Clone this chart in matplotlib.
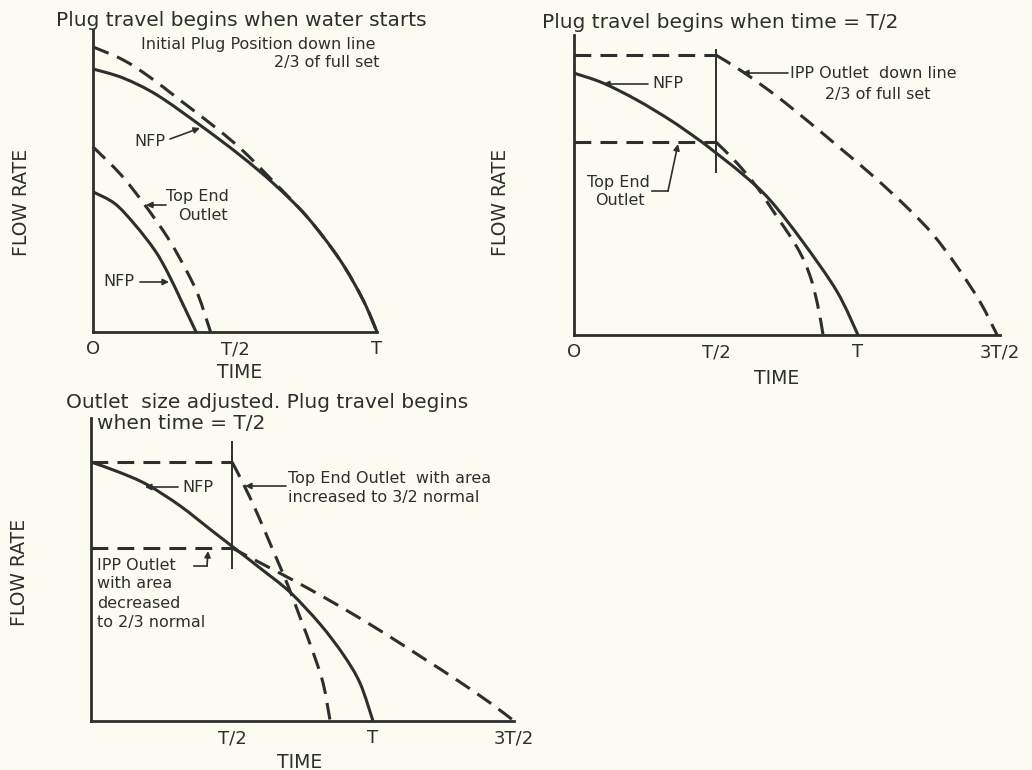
import matplotlib
matplotlib.use("Agg")
import numpy as np
import matplotlib.pyplot as plt
from matplotlib.lines import Line2D
from matplotlib.path import Path
from matplotlib.patches import PathPatch

# ---------------- data (time in units of T, flow rate normalised to axis height) ----------
# Panel 1: plug travel begins when water starts
p1_nfp_outer_t = [0, 0.106, 0.225, 0.377, 0.518, 0.634, 0.754, 0.87, 0.951, 1.0]
p1_nfp_outer_q = [0.871, 0.841, 0.785, 0.685, 0.585, 0.493, 0.381, 0.238, 0.106, 0.0]
p1_ipp_t = [0, 0.106, 0.2, 0.306, 0.437, 0.528, 0.623, 0.754, 0.87, 0.951, 1.0]
p1_ipp_q = [0.944, 0.901, 0.844, 0.768, 0.673, 0.6, 0.51, 0.381, 0.238, 0.106, 0.0]
p1_nfp_inner_t = [0, 0.077, 0.148, 0.218, 0.264, 0.31, 0.363]
p1_nfp_inner_q = [0.464, 0.425, 0.355, 0.27, 0.195, 0.105, 0.0]
p1_top_t = [0, 0.099, 0.183, 0.264, 0.324, 0.37, 0.414]
p1_top_q = [0.613, 0.52, 0.42, 0.311, 0.212, 0.123, 0.0]
p1_ticks = [0, 0.5, 1.0]
p1_ticklabels = ["O", "T/2", "T"]

# Panel 2: plug travel begins when time = T/2
p2_nfp_t = [0, 0.102, 0.222, 0.338, 0.433, 0.489, 0.595, 0.69, 0.806, 0.926, 1.0]
p2_nfp_q = [0.873, 0.84, 0.783, 0.717, 0.655, 0.615, 0.535, 0.45, 0.31, 0.145, 0.0]
p2_ipp_t = [0, 0.5, 0.595, 0.715, 0.831, 0.947, 1.053, 1.173, 1.264, 1.349, 1.43, 1.49]
p2_ipp_q = [0.933, 0.933, 0.877, 0.795, 0.707, 0.615, 0.53, 0.425, 0.335, 0.228, 0.11, 0.0]
p2_top_t = [0, 0.5, 0.574, 0.644, 0.7, 0.785, 0.83, 0.858, 0.877]
p2_top_q = [0.643, 0.643, 0.573, 0.493, 0.415, 0.293, 0.2, 0.1, 0.0]
p2_marker_t = [0.5, 0.5]
p2_marker_q = [0.543, 0.95]
p2_ticks = [0, 0.5, 1.0, 1.5]
p2_ticklabels = ["O", "T/2", "T", "3T/2"]

# Panel 3: outlet size adjusted, plug travel begins when time = T/2
p3_nfp_t = [0, 0.103, 0.199, 0.316, 0.433, 0.504, 0.599, 0.706, 0.812, 0.894, 0.954, 1.0]
p3_nfp_q = [0.855, 0.82, 0.78, 0.71, 0.625, 0.574, 0.505, 0.425, 0.32, 0.22, 0.125, 0.0]
p3_top_t = [0, 0.5, 0.539, 0.589, 0.645, 0.695, 0.741, 0.787, 0.823, 0.848]
p3_top_q = [0.855, 0.855, 0.785, 0.686, 0.564, 0.455, 0.343, 0.228, 0.125, 0.0]
p3_ipp_t = [0, 0.5, 0.6, 0.706, 0.823, 0.943, 1.06, 1.177, 1.298, 1.415, 1.5]
p3_ipp_q = [0.571, 0.571, 0.522, 0.47, 0.41, 0.345, 0.278, 0.208, 0.135, 0.06, 0.0]
p3_marker_t = [0.5, 0.5]
p3_marker_q = [0.505, 0.92]
p3_ticks = [0.5, 1.0, 1.5]
p3_ticklabels = ["T/2", "T", "3T/2"]

# ---------------- style ----------------
W, H = 1032, 770
BG = "#fbfbf1"
INK = "#2e2e2e"
DASH = (0, (5.5, 3.0))
TITLE = 14.5
NOTE = 11.5
LABEL = 13.5
plt.rcParams["font.family"] = ["DejaVu Sans"]

fig = plt.figure(figsize=(W / 100, H / 100), dpi=100, facecolor=BG)


def make_ax(left, bottom, width, height, xmax, minor):
    ax = fig.add_axes([left / W, 1 - bottom / H, width / W, height / H])
    ax.set_facecolor("none")
    ax.set_xlim(0, xmax)
    ax.set_ylim(0, 1)
    for s in ("top", "right"):
        ax.spines[s].set_visible(False)
    for s in ("left", "bottom"):
        ax.spines[s].set_linewidth(2.0)
        ax.spines[s].set_color(INK)
    ax.set_yticks([])
    ax.set_xticks(minor, minor=True)
    ax.tick_params(axis="x", which="major", length=0, pad=6, labelsize=13, labelcolor=INK)
    ax.tick_params(axis="x", which="minor", direction="in", length=6.5, width=1.5, color=INK)
    return ax


def smooth_path(t, q):
    P = np.column_stack([t, q]).astype(float)
    n = len(P)
    verts = [P[0]]
    codes = [Path.MOVETO]
    for i in range(n - 1):
        p0 = P[i - 1] if i > 0 else P[i]
        p1, p2 = P[i], P[i + 1]
        p3 = P[i + 2] if i + 2 < n else P[i + 1]
        verts += [p1 + (p2 - p0) / 6.0, p2 - (p3 - p1) / 6.0, p2]
        codes += [Path.CURVE4] * 3
    return Path(verts, codes)


def curve(ax, t, q, dashed=False, corner=0, lw=2.2):
    ls = DASH if dashed else "-"
    if corner:
        ax.plot(t[:corner + 1], q[:corner + 1], color=INK, lw=lw, ls=ls, clip_on=False,
                solid_capstyle="butt", dash_capstyle="butt")
        t, q = t[corner:], q[corner:]
    patch = PathPatch(smooth_path(t, q), fill=False, edgecolor=INK, lw=lw, ls=ls,
                      clip_on=False, capstyle="butt")
    ax.add_patch(patch)


def vline(ax, t, q):
    ax.plot(t, q, color=INK, lw=1.4, clip_on=False)


def txt(px, py, s, size=NOTE, ha="center", va="center", rot=0):
    fig.text(px / W, 1 - py / H, s, fontsize=size, ha=ha, va=va, rotation=rot, color=INK)


def arrow(ax, tip, tail):
    ax.annotate("", xy=(tip[0], H - tip[1]), xytext=(tail[0], H - tail[1]),
                xycoords="figure pixels", textcoords="figure pixels", annotation_clip=False,
                arrowprops=dict(arrowstyle="-|>", color=INK, lw=1.2, mutation_scale=9,
                                shrinkA=0, shrinkB=0))


def seg(points):
    xs = [p[0] / W for p in points]
    ys = [1 - p[1] / H for p in points]
    fig.add_artist(Line2D(xs, ys, transform=fig.transFigure, color=INK, lw=1.2))


# ---------------- panel 1 ----------------
ax1 = make_ax(93, 332, 284, 302, 1.0, [0.5])
ax1.set_xticks(p1_ticks)
ax1.set_xticklabels(p1_ticklabels)
curve(ax1, p1_nfp_outer_t, p1_nfp_outer_q)
curve(ax1, p1_ipp_t, p1_ipp_q, dashed=True)
curve(ax1, p1_nfp_inner_t, p1_nfp_inner_q)
curve(ax1, p1_top_t, p1_top_q, dashed=True)

txt(241, 20, "Plug travel begins when water starts", size=TITLE)
txt(258, 45, "Initial Plug Position down line")
txt(380, 63, "2/3 of full set", ha="right")
txt(150, 141, "NFP")
arrow(ax1, (200, 128), (170, 139))
txt(197, 197, "Top End")
txt(203, 216, "Outlet")
arrow(ax1, (146, 205), (166, 205))
txt(119, 282, "NFP")
arrow(ax1, (169, 282), (140, 282))
txt(22, 202, "FLOW RATE", size=LABEL, rot=90)
txt(240, 373, "TIME", size=LABEL)

# ---------------- panel 2 ----------------
ax2 = make_ax(574, 335, 426, 300, 1.5, [0.5])
ax2.set_xticks(p2_ticks)
ax2.set_xticklabels(p2_ticklabels)
curve(ax2, p2_nfp_t, p2_nfp_q)
curve(ax2, p2_ipp_t, p2_ipp_q, dashed=True, corner=1)
curve(ax2, p2_top_t, p2_top_q, dashed=True, corner=1)
vline(ax2, p2_marker_t, p2_marker_q)

txt(720, 23, "Plug travel begins when time = T/2", size=TITLE)
txt(668, 83, "NFP")
arrow(ax2, (603, 84), (648, 84))
txt(790, 73, "IPP Outlet  down line", ha="left")
arrow(ax2, (742, 73), (788, 73))
txt(878, 94, "2/3 of full set")
txt(618, 182, "Top End")
txt(620, 201, "Outlet")
seg([(652, 191), (668, 191)])
arrow(ax2, (678, 144), (668, 191))
txt(500, 202, "FLOW RATE", size=LABEL, rot=90)
txt(777, 378, "TIME", size=LABEL)

# ---------------- panel 3 ----------------
ax3 = make_ax(91, 721, 423, 303, 1.5, [0.5, 1.0, 1.5])
ax3.set_xticks(p3_ticks)
ax3.set_xticklabels(p3_ticklabels)
curve(ax3, p3_nfp_t, p3_nfp_q)
curve(ax3, p3_top_t, p3_top_q, dashed=True, corner=1)
curve(ax3, p3_ipp_t, p3_ipp_q, dashed=True, corner=1)
vline(ax3, p3_marker_t, p3_marker_q)

txt(267, 403, "Outlet  size adjusted. Plug travel begins", size=TITLE)
txt(97, 424, "when time = T/2", size=TITLE, ha="left")
txt(198, 487, "NFP")
arrow(ax3, (145, 487), (178, 487))
txt(288, 478, "Top End Outlet  with area", ha="left")
txt(288, 497, "increased to 3/2 normal", ha="left")
arrow(ax3, (245, 486), (286, 486))
txt(97, 565, "IPP Outlet", ha="left")
txt(97, 584, "with area", ha="left")
txt(97, 603, "decreased", ha="left")
txt(97, 622, "to 2/3 normal", ha="left")
seg([(194, 566), (207, 566)])
arrow(ax3, (208, 551), (207, 566))
txt(20, 572, "FLOW RATE", size=LABEL, rot=90)
txt(300, 762, "TIME", size=LABEL)

fig.savefig("out.png", dpi=100, facecolor=BG)
